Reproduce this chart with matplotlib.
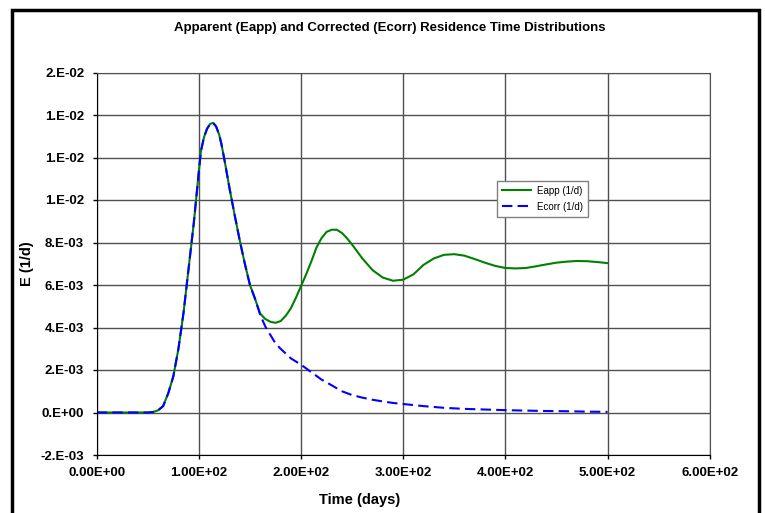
import matplotlib
matplotlib.use("Agg")
import matplotlib.pyplot as plt
from matplotlib.patches import Rectangle
from matplotlib.ticker import FuncFormatter, MultipleLocator

plt.rcParams['font.family'] = ['Liberation Sans', 'DejaVu Sans']

# Ecorr (1/d)
t_corr = [0, 10, 20, 30, 40, 50, 55, 60, 65, 70, 75, 80, 85, 90, 95, 100, 102,
          105, 108, 111, 114, 117, 120, 122, 125, 130, 135, 140, 145, 150, 155,
          160, 165, 170, 175, 180, 190, 200, 210, 220, 230, 240, 250, 260, 270,
          280, 290, 300, 320, 340, 360, 380, 400, 420, 440, 460, 480, 500]
e_corr = [0, 0, 0, 0, 0, 0, 0.00002, 0.0001, 0.0003, 0.0009, 0.0017, 0.0030,
          0.0047, 0.0068, 0.0089, 0.01135, 0.0123, 0.01295, 0.01335, 0.01358,
          0.01363, 0.01345, 0.01305, 0.01265, 0.0119, 0.01055, 0.0093, 0.0081,
          0.0070, 0.0060, 0.00535, 0.0046, 0.00405, 0.00365, 0.00325, 0.0030,
          0.00255, 0.00225, 0.0019, 0.00155, 0.00128, 0.0010, 0.00082, 0.0007,
          0.0006, 0.00052, 0.00045, 0.0004, 0.0003, 0.00022, 0.00017, 0.00014,
          0.00011, 0.00009, 0.00007, 0.00006, 0.00004, 0.00003]

# Eapp (1/d)
t_app = [0, 10, 20, 30, 40, 50, 55, 60, 65, 70, 75, 80, 85, 90, 95, 100, 102,
         105, 108, 111, 114, 117, 120, 122, 125, 130, 135, 140, 145, 150, 155,
         160, 165, 170, 175, 180, 185, 190, 195, 200, 205, 210, 215, 220, 225,
         230, 235, 240, 245, 250, 260, 270, 280, 290, 300, 310, 320, 330, 340,
         350, 360, 370, 380, 390, 400, 410, 420, 430, 440, 450, 460, 470, 480,
         490, 500]
e_app = [0, 0, 0, 0, 0, 0, 0.00002, 0.0001, 0.0003, 0.0009, 0.0017, 0.0030,
         0.0047, 0.0068, 0.0089, 0.01135, 0.0123, 0.01295, 0.01335, 0.01358,
         0.01363, 0.01345, 0.01305, 0.01265, 0.0119, 0.01055, 0.0093, 0.0081,
         0.0070, 0.0060, 0.00535, 0.00465, 0.0044, 0.00427, 0.00422, 0.0043,
         0.00455, 0.0049, 0.0054, 0.00595, 0.0065, 0.0071, 0.00775, 0.0082,
         0.0085, 0.0086, 0.0086, 0.00845, 0.0082, 0.0079, 0.00725, 0.0067,
         0.00635, 0.0062, 0.00625, 0.0065, 0.00695, 0.00725, 0.00742, 0.00745,
         0.00738, 0.00722, 0.00705, 0.0069, 0.0068, 0.00678, 0.0068, 0.00688,
         0.00697, 0.00705, 0.0071, 0.00713, 0.00712, 0.00708, 0.00703]

W, H = 765, 513
fig = plt.figure(figsize=(W / 100, H / 100), dpi=100)
ax = fig.add_axes([96.7 / W, 1 - 455 / H, (709.7 - 96.7) / W, (455 - 72.5) / H])

ax.plot(t_app, e_app, color='#008000', lw=1.5, label='Eapp (1/d)')
ax.plot(t_corr, e_corr, color='#0000FF', lw=1.5, dashes=(5, 2.5), label='Ecorr (1/d)')

ax.set_xlim(0, 600)
ax.set_ylim(-0.002, 0.016)
ax.xaxis.set_major_locator(MultipleLocator(100))
ax.yaxis.set_major_locator(MultipleLocator(0.002))
ax.xaxis.set_major_formatter(FuncFormatter(lambda v, p: f"{v:.2E}"))
ax.yaxis.set_major_formatter(FuncFormatter(lambda v, p: f"{v:.0E}".replace("E", ".E")))

gridc = '#505050'
ax.grid(True, color=gridc, lw=1.0)
ax.set_axisbelow(True)
for s in ['top', 'right']:
    ax.spines[s].set_color(gridc)
for s in ['left', 'bottom']:
    ax.spines[s].set_color('black')
ax.tick_params(direction='out', length=3, width=1, pad=6, labelsize=9.5)
for lab in ax.get_xticklabels() + ax.get_yticklabels():
    lab.set_fontweight('bold')

leg = ax.legend(loc='upper left', bbox_to_anchor=(497 / W, 1 - 181 / H),
                bbox_transform=fig.transFigure, fontsize=7, fancybox=False,
                framealpha=1, edgecolor='#808080', handlelength=3.0,
                borderpad=0.5, labelspacing=0.6, borderaxespad=0,
                handletextpad=0.6)
leg.get_frame().set_linewidth(1.0)

fig.text(390 / W, 1 - 28 / H,
         'Apparent (Eapp) and Corrected (Ecorr) Residence Time Distributions',
         ha='center', va='center', fontsize=9.5, fontweight='bold')
fig.text(360 / W, 1 - 500 / H, 'Time (days)', ha='center', va='center',
         fontsize=10.5, fontweight='bold')
fig.text(27 / W, 1 - 264 / H, 'E (1/d)', ha='center', va='center',
         rotation=90, fontsize=10.5, fontweight='bold')

# outer chart border
fig.patches.append(Rectangle((12 / W, -0.05), (759 - 12) / W, 1.05 - 10.5 / H,
                             transform=fig.transFigure, fill=False,
                             edgecolor='black', lw=2.5))

fig.savefig('out.png', dpi=100)
